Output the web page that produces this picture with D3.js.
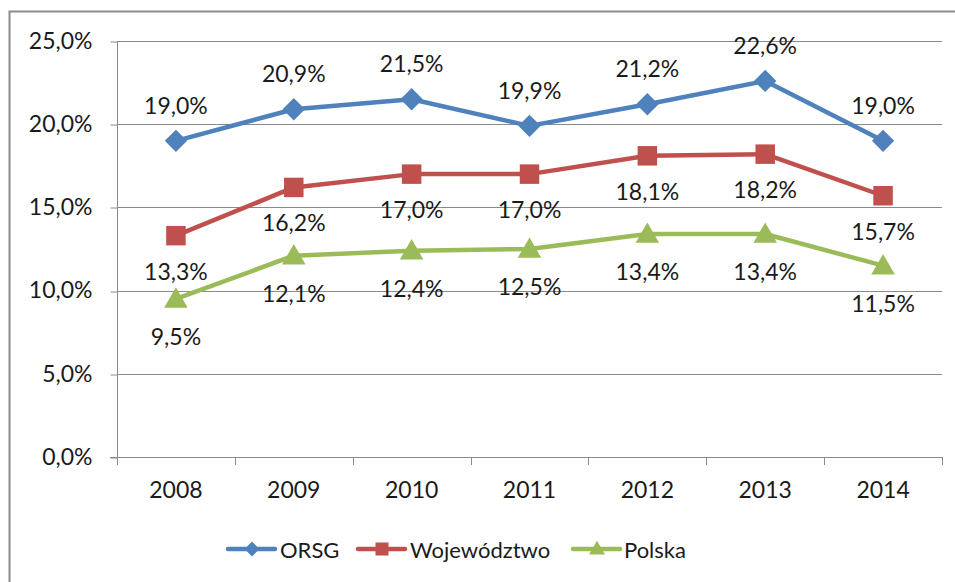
<!DOCTYPE html>
<html>
<head>
<meta charset="utf-8">
<script src="https://cdn.jsdelivr.net/npm/d3@7"></script>
<style>
  body { margin: 0; background: #fff; }
  text { font-family: Lato, "Liberation Sans", sans-serif; fill: #1a1a1a; }
</style>
</head>
<body>
<svg id="chart" width="955" height="582"></svg>
<script>
const years = ['2008', '2009', '2010', '2011', '2012', '2013', '2014']
const orsg = [19.0, 20.9, 21.5, 19.9, 21.2, 22.6, 19.0]
const wojewodztwo = [13.3, 16.2, 17.0, 17.0, 18.1, 18.2, 15.7]
const polska = [9.5, 12.1, 12.4, 12.5, 13.4, 13.4, 11.5]
const yTicks = [0, 5, 10, 15, 20, 25]

const series = [
  { name: 'ORSG', values: orsg, color: '#4f81bd', symbol: 'diamond', labelDy: -36 },
  { name: 'Województwo', values: wojewodztwo, color: '#c0504d', symbol: 'square', labelDy: 35 },
  { name: 'Polska', values: polska, color: '#9bbb59', symbol: 'triangle', labelDy: 37 },
]

const width = 955
const height = 582
const margin = { top: 41, right: 13, bottom: 125, left: 117 }
const fmt = (v) => v.toFixed(1).replace('.', ',') + '%'

const svg = d3.select('#chart')

// outer frame
svg.append('rect')
  .attr('x', 9.5).attr('y', 11.5)
  .attr('width', 980).attr('height', 620)
  .attr('fill', '#fff')
  .attr('stroke', '#8c8c8c')
  .attr('stroke-width', 2)

const x = d3.scaleBand()
  .domain(years)
  .range([margin.left, width - margin.right])

const y = d3.scaleLinear()
  .domain([0, 25])
  .range([height - margin.bottom, margin.top])

const cx = (year) => x(year) + x.bandwidth() / 2

// gridlines
svg.append('g')
  .attr('id', 'grid')
  .selectAll('line')
  .data(yTicks.slice(1))
  .join('line')
  .attr('x1', margin.left)
  .attr('x2', width - margin.right)
  .attr('y1', (d) => Math.round(y(d)) + 0.5)
  .attr('y2', (d) => Math.round(y(d)) + 0.5)
  .attr('stroke', '#8a8a8a')
  .attr('stroke-width', 1)

// y axis
const yAxis = svg.append('g')
  .attr('transform', `translate(${margin.left + 0.5},0)`)
  .call(d3.axisLeft(y).tickValues(yTicks).tickSize(7).tickPadding(18).tickFormat(fmt))
yAxis.select('.domain').attr('stroke', '#8a8a8a').attr('d', `M0,${y(25)}V${y(0)}`)
yAxis.selectAll('.tick line').attr('stroke', '#8a8a8a')
  .attr('transform', (d) => `translate(0,${Math.round(y(d)) + 0.5 - y(d)})`)
yAxis.selectAll('.tick text')
  .attr('font-size', 23)
  .attr('fill', '#1a1a1a')
  .style('font-family', 'Lato, "Liberation Sans", sans-serif')

// x axis
const xAxis = svg.append('g')
  .attr('transform', `translate(0,${Math.round(y(0)) + 0.5})`)
  .call(d3.axisBottom(x).tickSize(0).tickPadding(24))
xAxis.select('.domain').attr('stroke', '#8a8a8a').attr('d', `M${margin.left - 7},0H${width - margin.right}`)
xAxis.selectAll('.tick text')
  .attr('font-size', 23)
  .attr('fill', '#1a1a1a')
  .style('font-family', 'Lato, "Liberation Sans", sans-serif')
// category boundary ticks
svg.append('g')
  .selectAll('line')
  .data(years.concat(['end']))
  .join('line')
  .attr('x1', (d, i) => Math.round(margin.left + i * x.bandwidth()) + 0.5)
  .attr('x2', (d, i) => Math.round(margin.left + i * x.bandwidth()) + 0.5)
  .attr('y1', y(0))
  .attr('y2', y(0) + 8)
  .attr('stroke', '#8a8a8a')

const symbols = {
  diamond: (size) => d3.symbol(d3.symbolSquare, size),
  square: (size) => d3.symbol(d3.symbolSquare, size),
  triangle: (size) => d3.symbol(d3.symbolTriangle, size),
}
const markerSize = { diamond: 250, square: 380, triangle: 240 }
const legendSize = { diamond: 110, square: 170, triangle: 110 }
const rot = (s) => (s === 'diamond' ? ' rotate(45)' : '')

const line = d3.line()
  .x((d) => cx(d.year))
  .y((d) => y(d.value))

series.forEach((s) => {
  const pts = years.map((yr, i) => ({ year: yr, value: s.values[i] }))
  const g = svg.append('g').attr('id', s.name)

  g.append('path')
    .datum(pts)
    .attr('d', line)
    .attr('fill', 'none')
    .attr('stroke', s.color)
    .attr('stroke-width', 4.5)
    .attr('stroke-linejoin', 'round')

  g.selectAll('path.marker')
    .data(pts)
    .join('path')
    .attr('class', 'marker')
    .attr('d', symbols[s.symbol](markerSize[s.symbol]))
    .attr('transform', (d) => `translate(${cx(d.year)},${y(d.value) + (s.symbol === 'triangle' ? 2 : 0)})${rot(s.symbol)}`)
    .attr('fill', s.color)

  g.selectAll('text')
    .data(pts)
    .join('text')
    .attr('x', (d) => cx(d.year))
    .attr('y', (d) => y(d.value) + s.labelDy)
    .attr('text-anchor', 'middle')
    .attr('dominant-baseline', 'central')
    .attr('font-size', 23)
    .text((d) => fmt(d.value))
})

// legend
const legendItems = [
  { x: 228, textX: 280 },
  { x: 358, textX: 410 },
  { x: 573, textX: 624 },
]
const legendY = 549
const legend = svg.append('g').attr('id', 'legend')
series.forEach((s, i) => {
  const it = legendItems[i]
  legend.append('line')
    .attr('x1', it.x).attr('x2', it.x + 47)
    .attr('y1', legendY).attr('y2', legendY)
    .attr('stroke', s.color)
    .attr('stroke-width', 4.5)
    .attr('stroke-linecap', 'round')
  legend.append('path')
    .attr('d', symbols[s.symbol](legendSize[s.symbol]))
    .attr('transform', `translate(${it.x + 24},${legendY + (s.symbol === 'triangle' ? 1 : 0)})${rot(s.symbol)}`)
    .attr('fill', s.color)
  legend.append('text')
    .attr('x', it.textX)
    .attr('y', legendY)
    .attr('dominant-baseline', 'central')
    .attr('font-size', 22)
    .text(s.name)
})
</script>
</body>
</html>
